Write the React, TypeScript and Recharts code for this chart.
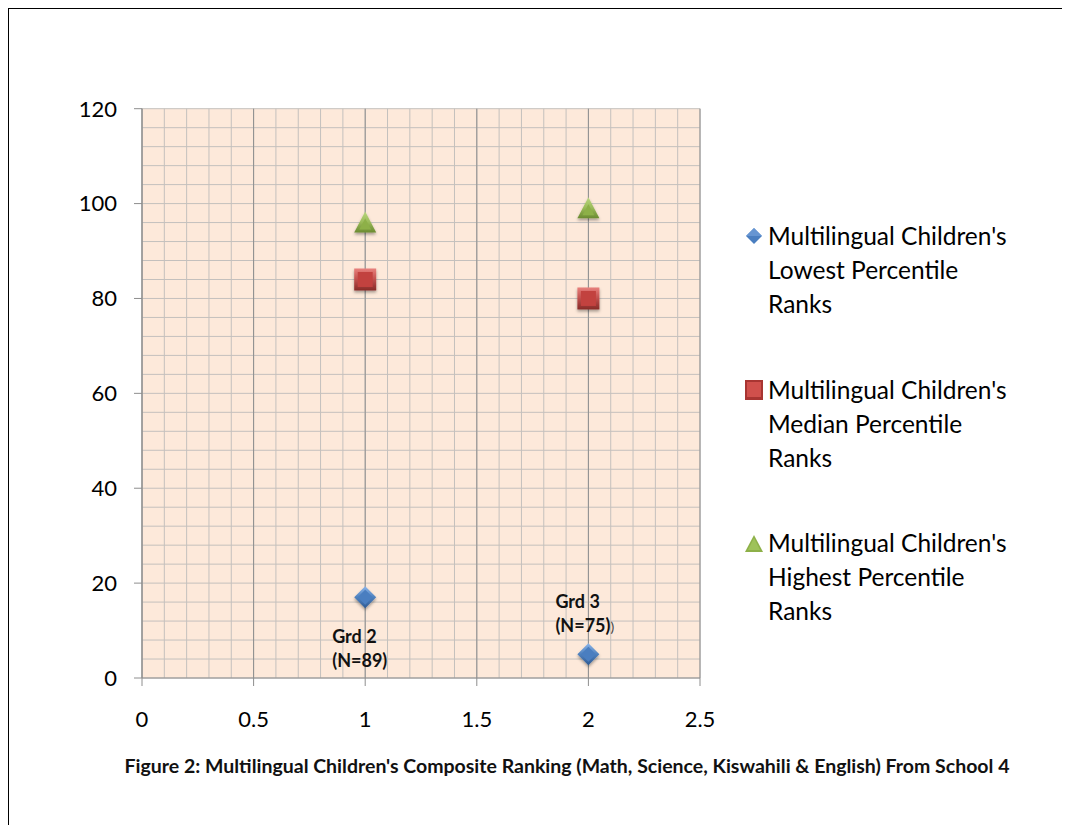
import { CartesianGrid, Legend, Scatter, ScatterChart, XAxis, YAxis } from "recharts";

const grades = [1, 2];
const lowestRanks = [17, 5];
const medianRanks = [84, 80];
const highestRanks = [96, 99];
// note lines per grade; an optional third item is a trailing stray paren
const gradeNotes = [
  ["Grd 2", "(N=89)"],
  ["Grd 3", "(N=75)", ")"],
];
const legendLines = [
  ["Multilingual Children's", "Lowest Percentile", "Ranks"],
  ["Multilingual Children's", "Median Percentile", "Ranks"],
  ["Multilingual Children's", "Highest Percentile", "Ranks"],
];
const xTicks = [0, 0.5, 1, 1.5, 2, 2.5];
const yTicks = [0, 20, 40, 60, 80, 100, 120];
const caption =
  "Figure 2: Multilingual Children's Composite Ranking (Math, Science, Kiswahili & English) From School 4";

const minorX = Array.from({ length: 26 }, (_, i) => i / 10);
const minorY = Array.from({ length: 31 }, (_, i) => i * 4);

const FONT = "Lato, 'Open Sans', sans-serif";

const lowestData = grades.map((x, i) => ({ x, y: lowestRanks[i], note: gradeNotes[i] }));
const medianData = grades.map((x, i) => ({ x, y: medianRanks[i] }));
const highestData = grades.map((x, i) => ({ x, y: highestRanks[i] }));

function DiamondMark({ cx, cy, payload }: any) {
  const r = 11;
  const ri = 7.5;
  const note: string[] | undefined = payload?.note;
  // low points get their note above, others below
  const above = payload && payload.y < 10;
  return (
    <g>
      <path
        d={`M${cx},${cy - r}L${cx + r},${cy}L${cx},${cy + r}L${cx - r},${cy}Z`}
        fill="url(#blueBevel)"
        filter="url(#markShadow)"
      />
      <path d={`M${cx},${cy - ri}L${cx + ri},${cy}L${cx},${cy + ri}L${cx - ri},${cy}Z`} fill="#4A7EC0" />
      {note && (
        <text x={cx - 33} y={above ? cy - 46 : cy + 46} fontFamily={FONT} fontSize={18} fontWeight={700} fill="#111">
          <tspan x={cx - 33}>{note[0]}</tspan>
          <tspan x={cx - 33} dy={24}>
            {note[1]}
            {note[2] && (
              <tspan fontWeight={400} fontSize={14} fill="#444">
                {note[2]}
              </tspan>
            )}
          </tspan>
        </text>
      )}
    </g>
  );
}

function SquareMark({ cx, cy }: any) {
  const s = 11;
  const si = 7.5;
  return (
    <g>
      <rect x={cx - s} y={cy - s} width={2 * s} height={2 * s} fill="url(#redBevel)" filter="url(#markShadow)" />
      <rect x={cx - si} y={cy - si} width={2 * si} height={2 * si} fill="#C2423F" />
    </g>
  );
}

function TriangleMark({ cx, cy }: any) {
  const w = 11;
  return (
    <g>
      <path
        d={`M${cx},${cy - 11}L${cx + w},${cy + 10}L${cx - w},${cy + 10}Z`}
        fill="url(#greenBevel)"
        filter="url(#markShadow)"
      />
      <path d={`M${cx},${cy - 4}L${cx + 6},${cy + 7}L${cx - 6},${cy + 7}Z`} fill="#8DB048" />
    </g>
  );
}

function LegendIcon({ index }: { index: number }) {
  if (index === 0) {
    return (
      <svg width={18} height={18}>
        <path d="M9,1L17,9L9,17L1,9Z" fill="#4A7EC0" />
        <path d="M9,1L17,9L1,9Z" fill="#6D9BD6" opacity={0.8} />
      </svg>
    );
  }
  if (index === 1) {
    return (
      <svg width={18} height={20}>
        <rect x={0} y={0} width={18} height={20} fill="#A83532" />
        <rect x={2} y={2} width={14} height={15} fill="#D0504C" />
      </svg>
    );
  }
  return (
    <svg width={18} height={17}>
      <path d="M9,0L18,17L0,17Z" fill="#8DB048" />
      <path d="M9,3L15,15L3,15Z" fill="#9EC25A" />
    </svg>
  );
}

function renderLegend() {
  return (
    <div style={{ fontFamily: FONT, fontSize: 24.5, color: "#000" }}>
      {legendLines.map((lines, i) => (
        <div key={i} style={{ display: "flex", marginBottom: i < legendLines.length - 1 ? 51.5 : 0 }}>
          <div style={{ width: 23, height: 34, display: "flex", alignItems: "center", flexShrink: 0 }}>
            <LegendIcon index={i} />
          </div>
          <div style={{ lineHeight: "34px", whiteSpace: "nowrap" }}>
            {lines.map((line) => (
              <div key={line}>{line}</div>
            ))}
          </div>
        </div>
      ))}
    </div>
  );
}

function gridX({ xAxis, offset }: any) {
  return minorX.map((v) =>
    typeof xAxis?.scale === "function" ? xAxis.scale(v) : offset.left + (v / 2.5) * offset.width,
  );
}

function gridY({ yAxis, offset }: any) {
  return minorY.map((v) =>
    typeof yAxis?.scale === "function" ? yAxis.scale(v) : offset.top + offset.height - (v / 120) * offset.height,
  );
}

export default function App() {
  const tickStyle = { fontFamily: FONT, fontSize: 22, fill: "#000" };
  return (
    <div
      style={{
        marginLeft: -2,
        marginTop: -2,
        borderLeft: "3px solid #000",
        borderTop: "3px solid #000",
        width: 1061,
        height: 816,
        position: "relative",
        background: "#fff",
      }}
    >
      <ScatterChart width={1048} height={816} margin={{ top: 99.7, right: 357, bottom: 87, left: 0 }}>
        <defs>
          <linearGradient id="blueBevel" x1="0" y1="0" x2="0" y2="1">
            <stop offset="0%" stopColor="#8AB4EA" />
            <stop offset="50%" stopColor="#4F81BD" />
            <stop offset="100%" stopColor="#2E5A93" />
          </linearGradient>
          <linearGradient id="redBevel" x1="0" y1="0" x2="0" y2="1">
            <stop offset="0%" stopColor="#E8807C" />
            <stop offset="50%" stopColor="#C0504D" />
            <stop offset="100%" stopColor="#872A28" />
          </linearGradient>
          <linearGradient id="greenBevel" x1="0" y1="0" x2="0" y2="1">
            <stop offset="0%" stopColor="#B9D77F" />
            <stop offset="50%" stopColor="#9BBB59" />
            <stop offset="100%" stopColor="#6A8A30" />
          </linearGradient>
          <filter id="markShadow" x="-40%" y="-40%" width="180%" height="180%">
            <feDropShadow dx="0" dy="2" stdDeviation="1.5" floodColor="#000" floodOpacity="0.35" />
          </filter>
        </defs>
        <CartesianGrid
          fill="#FDE9DA"
          fillOpacity={1}
          stroke="#C4C0BD"
          strokeWidth={1}
          verticalCoordinatesGenerator={gridX}
          horizontalCoordinatesGenerator={gridY}
        />
        <CartesianGrid horizontal={false} stroke="#8E8E8E" strokeWidth={1} />
        <XAxis
          type="number"
          dataKey="x"
          domain={[0, 2.5]}
          ticks={xTicks}
          interval={0}
          height={60}
          tick={tickStyle}
          tickSize={8}
          tickMargin={25}
          stroke="#8E8E8E"
          tickLine={{ stroke: "#8E8E8E" }}
          allowDataOverflow
        />
        <YAxis
          type="number"
          dataKey="y"
          domain={[0, 120]}
          ticks={yTicks}
          interval={0}
          width={133}
          tick={tickStyle}
          tickSize={8}
          tickMargin={17}
          stroke="#8E8E8E"
          tickLine={{ stroke: "#8E8E8E" }}
        />
        <Legend
          layout="vertical"
          align="center"
          verticalAlign="middle"
          content={renderLegend}
          wrapperStyle={{ left: 736, top: 210, width: 300 }}
        />
        <Scatter name={legendLines[0].join(" ")} data={lowestData} fill="#4F81BD" shape={DiamondMark} isAnimationActive={false} />
        <Scatter name={legendLines[1].join(" ")} data={medianData} fill="#C0504D" shape={SquareMark} isAnimationActive={false} />
        <Scatter name={legendLines[2].join(" ")} data={highestData} fill="#9BBB59" shape={TriangleMark} isAnimationActive={false} />
      </ScatterChart>
      <div
        style={{
          position: "absolute",
          left: 58,
          top: 747,
          width: 1000,
          textAlign: "center",
          lineHeight: "20px",
          fontFamily: FONT,
          fontSize: 19.5,
          fontWeight: 700,
          color: "#111",
          whiteSpace: "nowrap",
        }}
      >
        {caption}
      </div>
    </div>
  );
}
